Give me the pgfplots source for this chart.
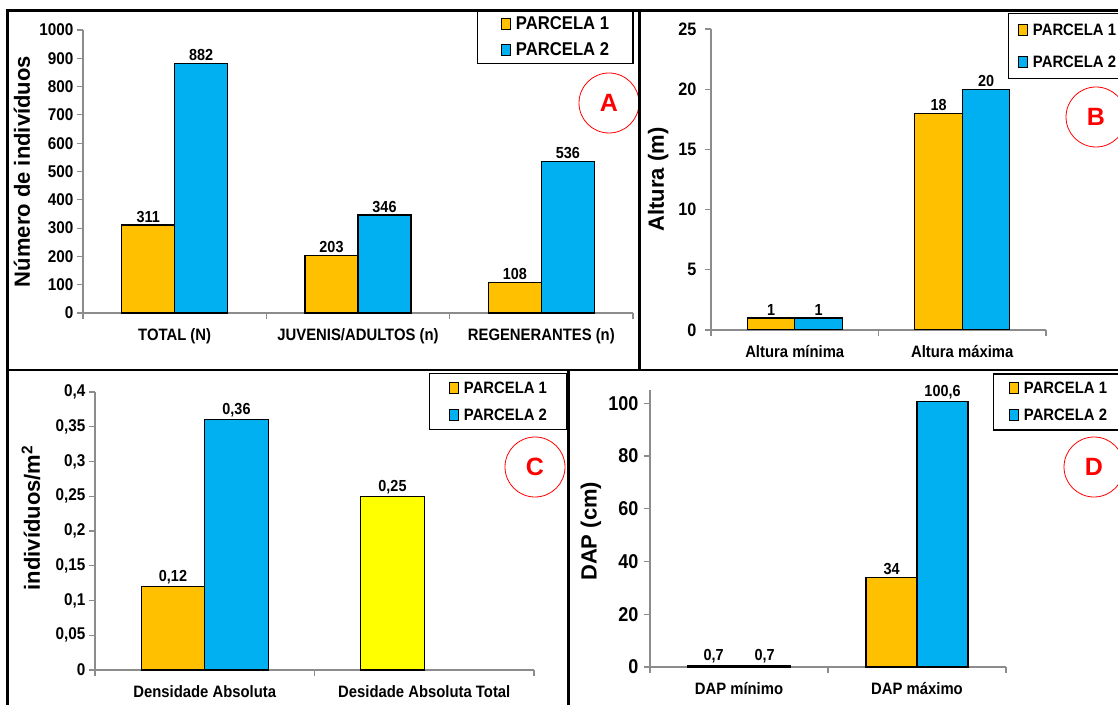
\documentclass[border=0pt]{standalone}
\usepackage{fontspec}
\setmainfont{Liberation Sans}[FakeStretch=0.9]
\newfontfamily\largo{Liberation Sans}
\usepackage{pgfplots}
\pgfplotsset{compat=1.18}

\definecolor{parc1}{HTML}{FFC000}
\definecolor{parc2}{HTML}{00B0F0}
\definecolor{dtotal}{HTML}{FFFF00}
\definecolor{eixo}{HTML}{8C8C8C}
\definecolor{vermelho}{HTML}{FF0000}

\newcommand\fs[1]{\fontsize{#1}{#1}\selectfont\bfseries}
\newcommand\fl[1]{\largo\fontsize{#1}{#1}\selectfont\bfseries}

\pgfplotsset{
  painel/.style={
    scale only axis,
    anchor=south west,
    axis x line*=bottom,
    axis y line*=left,
    axis line style={eixo, line width=1.1pt},
    tick style={eixo, line width=1.1pt},
    tick align=outside,
    major tick length=6pt,
    minor tick length=6pt,
    major x tick style={draw=none},
    ymin=0,
    scaled y ticks=false,
    /pgf/number format/assume math mode=true,
    /pgf/number format/use comma,
    /pgf/number format/1000 sep={},
    xticklabel style={font=\fs{16.5}, yshift=-6pt},
    legend cell align=left,
    legend image code/.code={
      \draw[#1, draw=black, line width=1pt] (0pt,-5.5pt) rectangle (9pt,5.5pt);
      \path (-1pt,0pt) (12pt,0pt);},
    legend style={draw=black, line width=1.3pt, fill=white, anchor=north west},
  },
  barra/.style n args={2}{ybar, bar width=#1, bar shift=#2,
    draw=black, line width=1.3pt,
    nodes near coords,
    nodes near coords style={font=\fs{16}, text=black, anchor=south,
      inner sep=2pt, xshift=#2}},
}

\begin{document}
\begin{tikzpicture}
\useasboundingbox (0,0) rectangle (1118pt,705pt);

% A: number of individuals per plot
\begin{axis}[painel,
  at={(83pt,392pt)}, width=550pt, height=283pt,
  xmin=-0.5, xmax=2.5, ymax=1000,
  xtick={0,1,2}, xticklabels={TOTAL (N), JUVENIS/ADULTOS (n), REGENERANTES (n)},
  minor xtick={-0.5,0.5,1.5,2.5},
  ytick={0,100,...,1000},
  yticklabel style={font=\fs{17}},
  ylabel={Número de indivíduos},
  ylabel style={font=\fl{22}, at={(axis description cs:-0.111,0.5)}, anchor=center},
  legend style={at={(axis description cs:0.7164,1.0707)}, font=\fs{18.5},
    inner xsep=22pt, inner ysep=4pt, row sep=8pt},
]
\addplot[barra={53pt}{-26.5pt}, fill=parc1] coordinates {(0,311) (1,203) (2,108)};
\addplot[barra={53pt}{26.5pt}, fill=parc2] coordinates {(0,882) (1,346) (2,536)};
\legend{PARCELA 1, PARCELA 2}
\end{axis}

% B: height
\begin{axis}[painel,
  at={(711pt,375pt)}, width=335pt, height=301pt,
  xmin=-0.5, xmax=1.5, ymax=25,
  xtick={0,1}, xticklabels={Altura mínima, Altura máxima},
  minor xtick={-0.5,0.5,1.5},
  ytick={0,5,...,25},
  yticklabel style={font=\fs{18}, xshift=-5pt},
  ylabel={Altura (m)},
  ylabel style={font=\fl{22}, at={(axis description cs:-0.158,0.5)}, anchor=center},
  legend style={at={(axis description cs:0.8866,1.0532)}, font=\fs{16.5},
    inner xsep=8pt, inner ysep=8pt, row sep=15pt},
]
\addplot[barra={47.5pt}{-23.75pt}, fill=parc1] coordinates {(0,1) (1,18)};
\addplot[barra={47.5pt}{23.75pt}, fill=parc2] coordinates {(0,1) (1,20)};
\legend{PARCELA 1, PARCELA 2}
\end{axis}

% C: density
\begin{axis}[painel,
  at={(95pt,35pt)}, width=439pt, height=278pt,
  xmin=-0.5, xmax=1.5, ymax=0.4,
  xtick={0,1}, xticklabels={Densidade Absoluta, Desidade Absoluta Total},
  minor xtick={-0.5,0.5,1.5},
  ytick={0,0.05,0.1,0.15,0.2,0.25,0.3,0.35,0.4},
  yticklabel style={font=\fs{17}, /pgf/number format/fixed, /pgf/number format/precision=2},
  ylabel={indivíduos/m\textsuperscript{2}},
  ylabel style={font=\fl{22}, at={(axis description cs:-0.146,0.547)}, anchor=center},
  legend style={at={(axis description cs:0.7608,1.0683)}, font=\fs{16.5},
    inner xsep=18pt, inner ysep=6pt, row sep=10pt},
]
\addplot[barra={63.5pt}{-31.75pt}, fill=parc1] coordinates {(0,0.12)};
\addplot[barra={63.5pt}{31.75pt}, fill=parc2] coordinates {(0,0.36)};
\addplot[barra={63.5pt}{-31.75pt}, fill=dtotal, forget plot] coordinates {(1,0.25)};
\legend{PARCELA 1, PARCELA 2}
\end{axis}

% D: diameter at breast height
\begin{axis}[painel,
  at={(650pt,38pt)}, width=356pt, height=277pt,
  xmin=-0.5, xmax=1.5, ymax=105,
  xtick={0,1}, xticklabels={DAP mínimo, DAP máximo},
  minor xtick={-0.5,0.5,1.5},
  ytick={0,20,...,100},
  yticklabel style={font=\fs{20}, xshift=-2pt},
  ylabel={DAP (cm)},
  ylabel style={font=\fl{22}, at={(axis description cs:-0.166,0.49)}, anchor=center},
  legend style={at={(axis description cs:0.9635,1.0606)}, font=\fs{16.5},
    inner xsep=14pt, inner ysep=6pt, row sep=10pt},
]
\addplot[barra={51pt}{-25.5pt}, fill=parc1] coordinates {(0,0.7) (1,34)};
\addplot[barra={51pt}{25.5pt}, fill=parc2] coordinates {(0,0.7) (1,100.6)};
\legend{PARCELA 1, PARCELA 2}
\end{axis}

% panel letters
\foreach \cx/\cy/\letra in {609/602/A, 1096/588/B, 535/238/C, 1094/238/D}{
  \draw[vermelho, line width=0.8pt] (\cx pt,\cy pt) circle (30pt);
  \node[text=vermelho, font=\fl{25}] at (\cx pt,\cy pt) {\letra};
}

% panel frames
\draw[black, line width=2.5pt]
  (7.5pt,0pt) -- (7.5pt,694.5pt) -- (1118pt,694.5pt)
  (7.5pt,335pt) -- (1118pt,335pt)
  (639.5pt,694.5pt) -- (639.5pt,335pt)
  (568.5pt,335pt) -- (568.5pt,0pt);
\end{tikzpicture}
\end{document}
